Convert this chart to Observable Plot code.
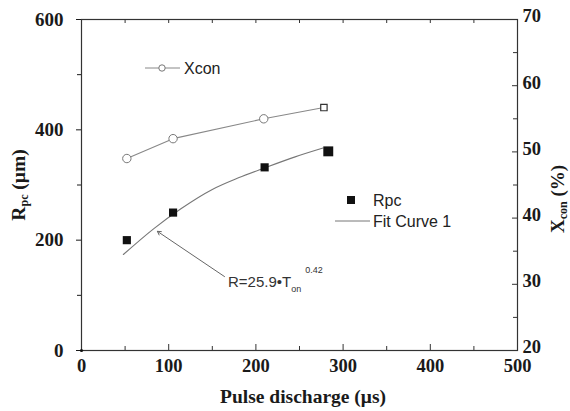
<!DOCTYPE html>
<html>
<head>
<meta charset="utf-8">
<script src="https://cdn.jsdelivr.net/npm/d3@7"></script>
<script src="https://cdn.jsdelivr.net/npm/@observablehq/plot@0.6"></script>
<style>
  html, body { margin: 0; padding: 0; background: #fff; }
  #chart { width: 570px; height: 411px; }
</style>
</head>
<body>
<div id="chart"></div>
<script>
// ---- data ----
const rpcPulse = [52, 105, 210, 283];
const rpcValues = [200, 250, 332, 361];
const xconPulse = [52, 105, 209, 278];
const xconValues = [49.0, 52.0, 55.0, 56.7];
const fitPulse = [48, 83, 114, 150, 180, 210, 245, 277];
const fitValues = [174, 221, 257, 292, 313, 331, 351, 367];
const xTicks = [0, 100, 200, 300, 400, 500];
const xMinorTicks = [50, 150, 250, 350, 450];
const leftTicks = [0, 200, 400, 600];
const leftMinorTicks = [100, 300, 500];
const rightTicks = [20, 30, 40, 50, 60, 70];
const rightMinorTicks = [25, 35, 45, 55, 65];
const arrowFrom = [164, 134];
const arrowTo = [87, 216];

// right axis (Xcon, %) maps linearly onto the left axis range
const rightMin = 20, rightMax = 70, leftMax = 600;
const toLeft = v => (v - rightMin) / (rightMax - rightMin) * leftMax;

const rpc = rpcPulse.map((x, i) => ({x, y: rpcValues[i]}));
const xc = xconPulse.map((x, i) => ({x, y: toLeft(xconValues[i])}));
const fit = fitPulse.map((x, i) => ({x, y: fitValues[i]}));

const W = 570, H = 411, mL = 81, mR = 53, mT = 19, mB = 61;
const pw = W - mL - mR, ph = H - mT - mB;
const tickFont = "'Liberation Serif', 'Times New Roman', serif";
const sansFont = "'Liberation Sans', Arial, sans-serif";

const chart = Plot.plot({
  width: W, height: H,
  marginLeft: mL, marginRight: mR, marginTop: mT, marginBottom: mB,
  style: {fontFamily: tickFont, fontSize: "19px", fontWeight: "bold", color: "#1a1a1a", background: "#fff"},
  x: {domain: [0, 500]},
  y: {domain: [0, 600]},
  marks: [
    Plot.frame({stroke: "#333", strokeWidth: 1.2}),
    // bottom axis labels
    Plot.axisX({ticks: xTicks, tickSize: 0, tickPadding: 8, label: null, fontSize: 18.5, fontWeight: "bold"}),
    // bottom ticks (inward)
    Plot.ruleX(xTicks, {x: d => d, insetTop: ph - 6, stroke: "#333"}),
    Plot.ruleX(xMinorTicks, {x: d => d, insetTop: ph - 4, stroke: "#333"}),
    // top ticks (inward)
    Plot.ruleX(xTicks.concat(xMinorTicks), {x: d => d, insetBottom: ph - 4, stroke: "#333"}),
    // left axis
    Plot.axisY({ticks: leftTicks, tickSize: 5, tickPadding: 13, label: null, fontSize: 19, fontWeight: "bold"}),
    Plot.axisY({ticks: leftMinorTicks, tickSize: 4, tickFormat: () => "", label: null}),
    // right axis
    Plot.axisY({ticks: rightTicks.map(toLeft), anchor: "right", tickSize: 0, tickPadding: 5,
      tickFormat: d => String(Math.round(rightMin + d / leftMax * (rightMax - rightMin))),
      label: null, fontSize: 18.5, fontWeight: "bold", dy: -3}),
    Plot.ruleY(rightTicks.map(toLeft), {y: d => d, insetLeft: pw - 5, stroke: "#333"}),
    Plot.ruleY(rightMinorTicks.map(toLeft), {y: d => d, insetLeft: pw - 4, stroke: "#333"}),
    // fit curve
    Plot.line(fit, {x: "x", y: "y", stroke: "#777", strokeWidth: 1.1, curve: "monotone-x"}),
    // Xcon series
    Plot.line(xc, {x: "x", y: "y", stroke: "#888", strokeWidth: 1.1}),
    Plot.dot(xc.slice(0, 3), {x: "x", y: "y", r: 4.2, stroke: "#777", fill: "#fff", strokeWidth: 1}),
    Plot.dot(xc.slice(3), {x: "x", y: "y", r: 3.6, symbol: "square", stroke: "#333", fill: "#fff", strokeWidth: 1.2}),
    // Rpc series
    Plot.dot(rpc.slice(0, 3), {x: "x", y: "y", r: 4.6, symbol: "square", fill: "#111", stroke: "none"}),
    Plot.dot(rpc.slice(3), {x: "x", y: "y", r: 5.6, symbol: "square", fill: "#111", stroke: "none"}),
    Plot.dot([0], {x: d => d, y: d => d, r: 1.6, fill: "#111", stroke: "none"}),
    // annotation arrow
    Plot.arrow([0], {x1: () => arrowFrom[0], y1: () => arrowFrom[1], x2: () => arrowTo[0], y2: () => arrowTo[1],
      stroke: "#666", strokeWidth: 1, headLength: 6, bend: 0})
  ]
});

document.getElementById("chart").appendChild(chart);

const svg = d3.select(chart.tagName.toLowerCase() === "svg" ? chart : chart.querySelector("svg"));
const sx = chart.scale("x"), sy = chart.scale("y");

// axis titles
svg.append("text")
  .attr("x", mL + pw / 2 + 4).attr("y", H - 8)
  .attr("text-anchor", "middle")
  .style("font-family", tickFont).style("font-size", "19.5px").style("font-weight", "bold").attr("fill", "#1a1a1a")
  .text("Pulse discharge (μs)");

const yl = svg.append("text")
  .attr("transform", `translate(25,185) rotate(-90)`)
  .attr("text-anchor", "middle")
  .style("font-family", tickFont).style("font-size", "19.5px").style("font-weight", "bold").attr("fill", "#1a1a1a");
yl.append("tspan").text("R");
yl.append("tspan").attr("dy", 3).style("font-size", "12px").text("pc");
yl.append("tspan").attr("dy", -3).text(" (μm)");

const yr = svg.append("text")
  .attr("transform", `translate(564,199) rotate(-90)`)
  .attr("text-anchor", "middle")
  .style("font-family", tickFont).style("font-size", "19px").style("font-weight", "bold").attr("fill", "#1a1a1a");
yr.append("tspan").text("X");
yr.append("tspan").attr("dy", 3).style("font-size", "12px").text("con");
yr.append("tspan").attr("dy", -3).text(" (%)");

// annotation text
const ann = svg.append("text")
  .attr("x", sx.apply(arrowFrom[0]) + 4).attr("y", sy.apply(arrowFrom[1]) + 11)
  .attr("text-anchor", "start")
  .style("font-family", sansFont).style("font-size", "15px").style("font-weight", "normal").attr("fill", "#333");
ann.append("tspan").text("R=25.9•T");
ann.append("tspan").attr("dy", 5).style("font-size", "9px").text("on");
ann.append("tspan").attr("dy", -19).attr("dx", 4).style("font-size", "9px").text("0.42");

// legends
const g = svg.append("g").style("font-family", sansFont).style("font-size", "16px").style("font-weight", "normal")
  .attr("text-anchor", "start").attr("fill", "#222");
g.append("line").attr("x1", 145).attr("x2", 180).attr("y1", 68).attr("y2", 68).attr("stroke", "#888");
g.append("circle").attr("cx", 162).attr("cy", 68).attr("r", 3.2).attr("fill", "#fff").attr("stroke", "#777");
g.append("text").attr("x", 184).attr("y", 74).text("Xcon");
g.append("rect").attr("x", 347).attr("y", 196).attr("width", 8).attr("height", 8).attr("fill", "#111");
g.append("text").attr("x", 373).attr("y", 206).text("Rpc");
g.append("line").attr("x1", 335).attr("x2", 370).attr("y1", 221).attr("y2", 221).attr("stroke", "#777");
g.append("text").attr("x", 373).attr("y", 227).text("Fit Curve 1");
</script>
</body>
</html>
